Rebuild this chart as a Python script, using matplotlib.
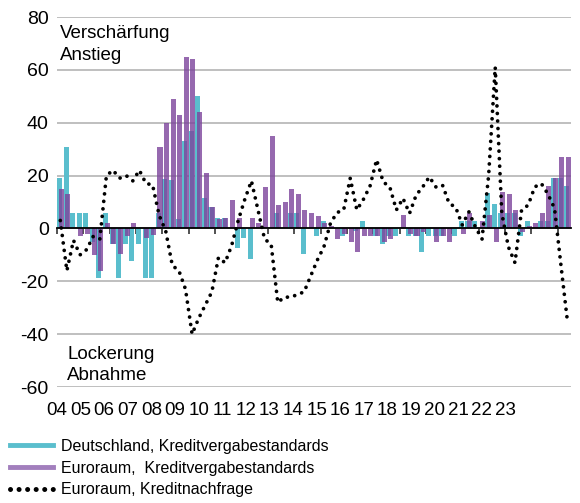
import matplotlib
matplotlib.use('Agg')
import matplotlib.pyplot as plt
import numpy as np
from matplotlib.lines import Line2D
import matplotlib.transforms as mtransforms

plt.rcParams['font.family'] = ['Liberation Sans', 'DejaVu Sans']
plt.rcParams['axes.unicode_minus'] = False

# Quartale 2004Q1 .. 2023Q2
year_labels = ['04', '05', '06', '07', '08', '09', '10', '11', '12', '13',
               '14', '15', '16', '17', '18', '19', '20', '21', '22', '23']

# Deutschland, Kreditvergabestandards
de_standards = [19, 31, 6, 6, 6, -5, -18.7, 6, -6, -18.7,
                -6, -12.5, -6, -18.7, -18.7, 6, 18.7, 18.5, 3.5, 33,
                37, 50, 11.5, 8, 4, 4, 0, -7.5, -3.8, -11.4,
                0, 0, 0, 6, 0, 6, 6, -9.5, 0, -3,
                3, 0, 0, -3, 0, -1, 3, 0, -3, -6,
                -3, -3, 0, -3, -3, -9, -3, -3, -3, 0,
                -3, 3, 3, 3, 0, 13.3, 9.2, 6, 6, 6,
                -3, 3, 0, 3, 3, 19, 19, 16]

# Euroraum, Kreditvergabestandards
ea_standards = [15, 13, 0, -3, -2, -10, -16, 2, -6, -9.5,
                -3, 2, 0, -3.7, -2.5, 31, 40, 48.8, 43, 65,
                64, 44, 21, 8, 3.5, 4, 10.7, 4, 0, 4,
                2, 15.7, 35, 9, 10, 15, 13, 7, 6, 4.8,
                2, 1, -4, -2, -5, -9, -3, -3, -3, -5,
                -4, 0, 5, -2, -3, -1.5, 0, -5, -3, -5,
                0, -2, 5.8, 0, 3, 5, -5, 13.9, 12.9, 7,
                -1.5, 1, 2, 6, 16, 19, 27, 27]

# Euroraum, Kreditnachfrage
ea_demand = [3, -16, -4.5, -10, -8, -3, -4, 20, 22, 19,
             20, 18, 22, 17, 16.5, 5, -1, -14, -16, -23,
             -40, -34, -29, -24, -11, -13, -6.5, 3, 11, 18,
             7, -4, -6, -28, -26, -26, -25, -24, -18, -12,
             -7, 2, 6, 7, 19, 7, 11, 16, 26, 17.6,
             15.7, 7, 11.4, 5.7, 12.6, 15.7, 19.5, 15.7, 16.4, 9.5,
             8, 1.3, 6.3, 0.5, -4, 20, 61, 5.7, -7, -13,
             7, 8.8, 15.7, 17, 13, 7.6, -14.5, -36]

TEAL = '#5abecd'
PURPLE = '#7c449b'

fig = plt.figure(figsize=(5.8, 5.03), dpi=100)
ax = fig.add_axes([57 / 580, 1 - 387 / 503, 514 / 580, 370 / 503])

x = np.arange(len(de_standards))
width = 0.76
ax.bar(x - 0.13, de_standards, width, color=TEAL, zorder=1)
ax.bar(x + 0.13, ea_standards, width, color=PURPLE, alpha=0.8, zorder=1.5)
ax.plot(x, ea_demand, color='black', linewidth=2.7, linestyle=(0, (0.01, 2.0)),
        dash_capstyle='round', zorder=3)

ax.set_xlim(-0.5, len(x) - 0.5)
ax.set_ylim(-60, 80)
ax.set_yticks(np.arange(-60, 81, 20))
ax.tick_params(axis='y', length=0, labelsize=14, pad=6)
ax.grid(axis='y', color='#b4b4b4', linewidth=1.2)
ax.set_axisbelow(True)

for s in ['top', 'right', 'left']:
    ax.spines[s].set_visible(False)
ax.spines['bottom'].set_position(('data', 0))
ax.spines['bottom'].set_color('black')
ax.spines['bottom'].set_linewidth(1.3)
ax.spines['bottom'].set_zorder(4)

# Jahresgrenzen als kleine Striche an der Nulllinie
ax.set_xticks(np.arange(-0.5, len(x), 4))
ax.tick_params(axis='x', length=4, width=1.2, color='#333333', labelbottom=False, direction='out')

# Jahresbeschriftungen unterhalb
trans = mtransforms.blended_transform_factory(ax.transAxes, ax.transAxes)
for j, lab in enumerate(year_labels):
    ax.text(j * 23.6 / 514, -0.064, lab, transform=trans, ha='center', va='center',
            fontsize=13.5, clip_on=False)

ax.text(0.006, 0.978, 'Verschärfung\nAnstieg', transform=ax.transAxes, ha='left', va='top',
        fontsize=13.5, linespacing=1.35)
ax.text(0.02, 0.008, 'Lockerung\nAbnahme', transform=ax.transAxes, ha='left', va='bottom',
        fontsize=13.5, linespacing=1.3)

handles = [
    Line2D([], [], color=TEAL, linewidth=3.5),
    Line2D([], [], color='#a27fbd', linewidth=3.5),
    Line2D([], [], color='black', linewidth=3.6, linestyle=(0, (0.01, 1.7)), dash_capstyle='round'),
]
labels = ['Deutschland, Kreditvergabestandards',
          'Euroraum,  Kreditvergabestandards',
          'Euroraum, Kreditnachfrage']
fig.legend(handles, labels, loc='lower left', bbox_to_anchor=(0.0, -0.008), frameon=False,
           fontsize=11.5, handlelength=2.7, handletextpad=0.55, labelspacing=0.42,
           borderaxespad=0.2)

plt.savefig('out.png', dpi=100)
